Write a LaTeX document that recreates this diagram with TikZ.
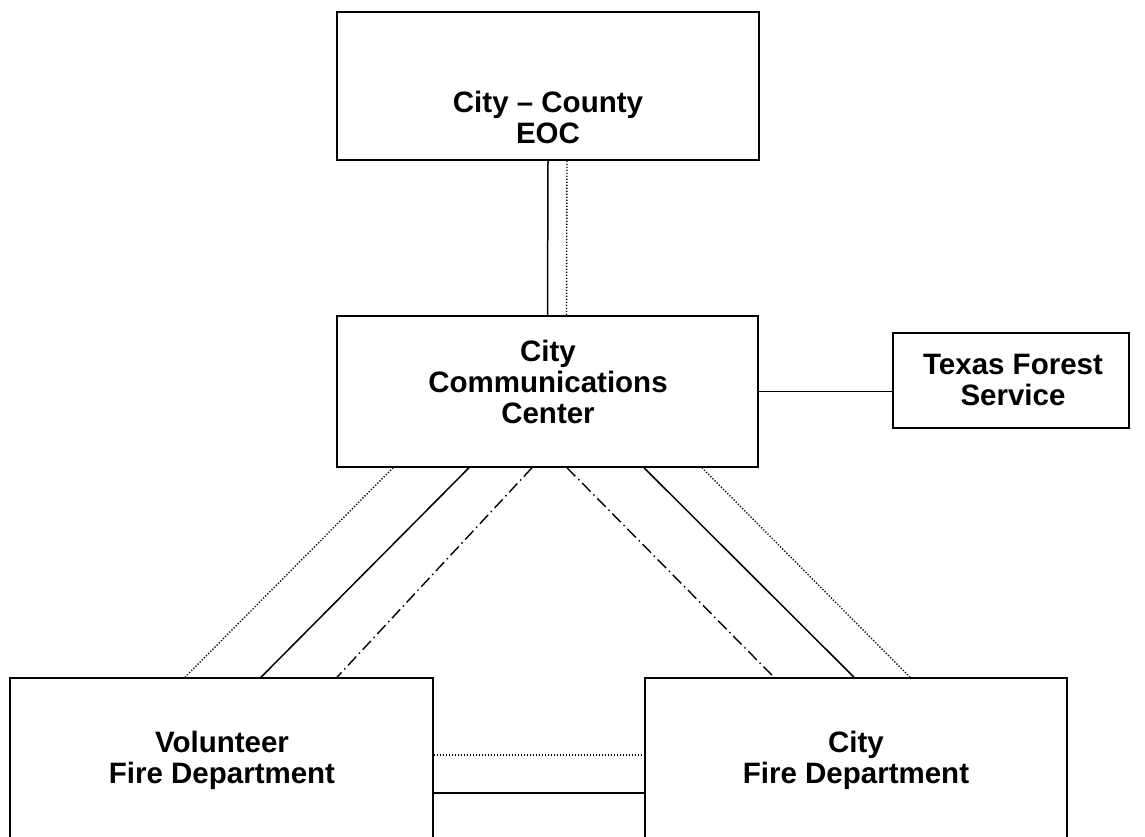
\documentclass[tikz,border=0pt]{standalone}
\usepackage{fontspec}
\setmainfont{Liberation Sans}
\begin{document}
\begin{tikzpicture}[x=1pt,y=-1pt,
  box/.style={draw,line width=1.5pt,inner sep=0pt,fill=white},
  lbl/.style={align=center,font=\fontsize{29.5}{31}\selectfont\bfseries,inner sep=0pt},
  solidline/.style={line width=1.5pt},
  dotline/.style={line width=1.4pt,dash pattern=on 1.2pt off 1.8pt},
  dashdotline/.style={line width=1.4pt,dash pattern=on 12pt off 4pt on 1.5pt off 4pt}]
\useasboundingbox (0,0) rectangle (1145,837);
\fill[white] (0,0) rectangle (1145,837);
\node[box,minimum width=422pt,minimum height=148pt] (eoc) at (548,86) {};
\node[box,minimum width=421pt,minimum height=151pt] (comm) at (547.5,391.5) {};
\node[box,minimum width=236pt,minimum height=95pt] (tfs) at (1011,380.5) {};
\node[box,minimum width=423pt,minimum height=172pt] (vol) at (221.5,764) {};
\node[box,minimum width=422pt,minimum height=172pt] (cfd) at (856,764) {};
\node[lbl] (teoc) at (548,117) {City -- County\\EOC};
\node[lbl] (tcomm) at (548,382) {City\\Communications\\Center};
\node[lbl] (ttfs) at (1013,380) {Texas Forest\\Service};
\node[lbl] (tvol) at (222,760) {Volunteer\\Fire Department};
\node[lbl] (tcfd) at (856,760) {City\\Fire Department};
% EOC - Comm
\draw[solidline] (eoc.south) -- (comm.north);
\draw[dotline] ([xshift=19pt]eoc.south) -- ([xshift=19pt]comm.north);
% Comm - TFS
\draw[solidline] (comm.east) -- (comm.east -| tfs.west);
% Comm - Volunteer
\draw[dotline] ([xshift=-154.5pt]comm.south) -- ([xshift=-36.5pt]vol.north);
\draw[solidline] ([xshift=-78.5pt]comm.south) -- ([xshift=39.5pt]vol.north);
\draw[dashdotline] ([xshift=-15.5pt]comm.south) -- ([xshift=115.5pt]vol.north);
% Comm - City FD
\draw[dashdotline] ([xshift=19.5pt]comm.south) -- ([xshift=-82pt]cfd.north);
\draw[solidline] ([xshift=96.5pt]comm.south) -- ([xshift=-2pt]cfd.north);
\draw[dotline] ([xshift=154.5pt]comm.south) -- ([xshift=54pt]cfd.north);
% Volunteer - City FD
\draw[dotline] ([yshift=9pt]vol.east) -- ([yshift=9pt]vol.east -| cfd.west);
\draw[solidline] ([yshift=-29pt]vol.east) -- ([yshift=-29pt]vol.east -| cfd.west);
\end{tikzpicture}
\end{document}
